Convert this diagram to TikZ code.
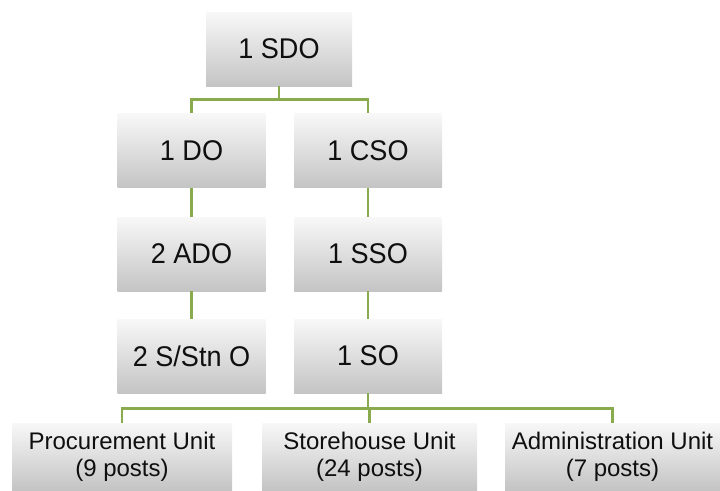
\documentclass[tikz,border=0pt]{standalone}
\usepackage{fontspec}
\setmainfont{Liberation Sans}
\newfontfamily\narrowsans[FakeStretch=0.95]{Liberation Sans}
\definecolor{boxtop}{RGB}{248,248,248}
\definecolor{boxbot}{RGB}{196,196,196}
\definecolor{linkc}{RGB}{138,170,78}
\definecolor{textc}{RGB}{15,15,15}
\begin{document}
\begin{tikzpicture}[x=1pt,y=-1pt]
\tikzset{
  box/.style={rectangle, top color=boxtop, bottom color=boxbot, draw=none,
    minimum width=148pt, minimum height=74pt, inner sep=0pt, text=textc,
    font=\narrowsans\fontsize{28.5}{32}\selectfont},
  unitbox/.style={rectangle, top color=boxtop, bottom color=boxbot, draw=none,
    minimum height=67pt, inner sep=0pt, text=textc, align=center,
    font=\fontsize{24}{27}\selectfont},
  link/.style={draw=linkc, line width=2.6pt, line join=miter},
}
\useasboundingbox (0,0) rectangle (720,490);
\clip (0,0) rectangle (720,490);
\node[box, minimum width=146pt] (sdo) at (279,49) {1 SDO};
\node[box] (do) at (191.5,150.5) {1 DO};
\node[box] (cso) at (368,150.5) {1 CSO};
\node[box] (ado) at (191.5,254) {2 ADO};
\node[box] (sso) at (368,254) {1 SSO};
\node[box] (sstn) at (191.5,356) {2 S/Stn O};
\node[box] (so) at (368,356) {1 SO};
\node[unitbox, minimum width=220pt] (proc) at (122,456.5) {Procurement Unit\\(9 posts)};
\node[unitbox, minimum width=215pt] (store) at (369.5,456.5) {Storehouse Unit\\(24 posts)};
\node[unitbox, minimum width=215pt] (admin) at (612.5,456.5) {Administration Unit\\(7 posts)};
\draw[link] (sdo.south) -- ++(0,13) -| (do.north);
\draw[link] (sdo.south) -- ++(0,13) -| (cso.north);
\draw[link] (do.south) -- (ado.north);
\draw[link] (ado.south) -- (sstn.north);
\draw[link] (cso.south) -- (sso.north);
\draw[link] (sso.south) -- (so.north);
\draw[link] (so.south) -- ++(0,15) -| (proc.north);
\draw[link] (so.south) -- ++(0,15) -| (admin.north);
\draw[link] (so.south) -- ++(0,15) -| (store.north);
\end{tikzpicture}
\end{document}
